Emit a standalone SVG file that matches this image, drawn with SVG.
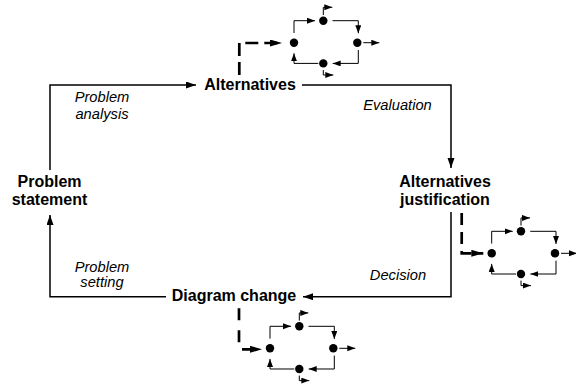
<svg xmlns="http://www.w3.org/2000/svg" xmlns:xlink="http://www.w3.org/1999/xlink" width="576" height="387" viewBox="0 0 576 387">
<style>
.lbl{font-family:"Liberation Sans",Arial,sans-serif;font-size:16px;font-weight:bold;fill:#000;text-anchor:middle}
.it{font-family:"Liberation Sans",Arial,sans-serif;font-size:14.7px;font-style:italic;fill:#000;text-anchor:middle}
.main{fill:none;stroke:#000;stroke-width:1.5;marker-end:url(#ah)}
.dash{fill:none;stroke:#000;stroke-width:2.7;marker-end:url(#ahd)}
.sm{fill:none;stroke:#000;stroke-width:1;marker-end:url(#ahs)}
.dot{fill:#000}
</style>
<defs>
<marker id="ah" markerUnits="userSpaceOnUse" markerWidth="11" markerHeight="8" refX="10" refY="3.5" orient="auto">
<path d="M0,0 L10,3.5 L0,7 z" fill="#000"/>
</marker>
<marker id="ahd" markerUnits="userSpaceOnUse" markerWidth="13" markerHeight="8" refX="12" refY="3.5" orient="auto">
<path d="M0,0 L12,3.5 L0,7 z" fill="#000"/>
</marker>
<marker id="ahs" markerUnits="userSpaceOnUse" markerWidth="9" markerHeight="7" refX="8" refY="3" orient="auto">
<path d="M0,0 L8,3 L0,6 z" fill="#000"/>
</marker>
<g id="mini">
<circle class="dot" cx="0" cy="0" r="4.2"/>
<circle class="dot" cx="29.3" cy="-22" r="4.2"/>
<circle class="dot" cx="63.3" cy="0" r="4.2"/>
<circle class="dot" cx="29.3" cy="20.7" r="4.2"/>
<path class="sm" d="M0,-9.7 V-22 H21"/>
<path class="sm" d="M38.5,-22 H64.3 V-9.4"/>
<path class="sm" d="M69.3,0 H85.3"/>
<path class="sm" d="M64.3,7.3 V20.7 H38.7"/>
<path class="sm" d="M24.3,20.7 H0 V10.6"/>
<path class="sm" d="M29.3,-27.7 V-35.4 H38.3"/>
<path class="sm" d="M29.3,27.3 V32.3 H39.3"/>
</g>
</defs>

<g id="connectors">
<path id="c-analysis" class="main" d="M50,170 V85 H196"/>
<path id="c-evaluation" class="main" d="M302,85 H451 V168"/>
<path id="c-decision" class="main" d="M451,212 V296.7 H303"/>
<path id="c-setting" class="main" d="M166,296.7 H50 V215"/>
<path id="c-dash1" class="dash" stroke-dasharray="13 6" d="M239.3,75 V43 H282"/>
<path id="c-dash2" class="dash" stroke-dasharray="12 7" d="M461.7,213 V253.3 H483.3"/>
<path id="c-dash3" class="dash" stroke-dasharray="12 10" d="M239,308.3 V349.3 H262"/>
</g>

<g id="node-statement">
<text class="lbl" x="49.5" y="186.7">Problem</text>
<text class="lbl" x="49.5" y="205">statement</text>
</g>
<g id="node-alternatives">
<text class="lbl" x="250" y="90">Alternatives</text>
</g>
<g id="node-justification">
<text class="lbl" x="445" y="186.7">Alternatives</text>
<text class="lbl" x="445" y="205">justification</text>
</g>
<g id="node-diagram-change">
<text class="lbl" x="234" y="300.7">Diagram change</text>
</g>

<g id="labels">
<text class="it" x="102" y="101.7">Problem</text>
<text class="it" x="102" y="119.3">analysis</text>
<text class="it" x="397.5" y="110">Evaluation</text>
<text class="it" x="398" y="280">Decision</text>
<text class="it" x="102" y="271.7">Problem</text>
<text class="it" x="102" y="287">setting</text>
</g>

<g id="mini-graph-1"><use xlink:href="#mini" href="#mini" x="294" y="42.7"/></g>
<g id="mini-graph-2"><use xlink:href="#mini" href="#mini" x="491.7" y="253.3"/></g>
<g id="mini-graph-3"><use xlink:href="#mini" href="#mini" x="270" y="348.3"/></g>
</svg>
